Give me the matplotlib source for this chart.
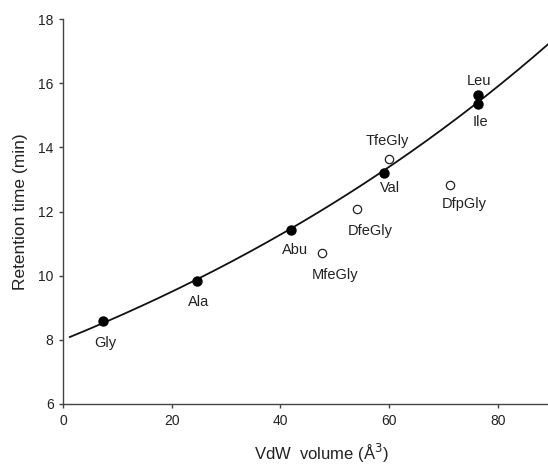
import numpy as np
import matplotlib.pyplot as plt

plt.rcParams['font.family'] = ['Liberation Sans', 'DejaVu Sans']

# natural amino acids (filled) and fluorinated glycines (open)
aa_names = ['Gly', 'Ala', 'Abu', 'Val', 'Leu', 'Ile']
aa_vol = [7.4, 24.6, 41.9, 59.1, 76.4, 76.4]
aa_rt = [8.60, 9.83, 11.41, 13.19, 15.63, 15.34]

fg_names = ['MfeGly', 'DfeGly', 'TfeGly', 'DfpGly']
fg_vol = [47.7, 54.0, 60.0, 71.2]
fg_rt = [10.72, 12.08, 13.63, 12.83]

# label offsets in pixels (dx, dy)
aa_off = [(2, -22), (2, -21), (4, -20), (6, -15), (1, 14), (2, -18)]
fg_off = [(13, -22), (14, -22), (-2, 18), (14, -19)]

fig = plt.figure(figsize=(5.48, 4.65), dpi=100)
ax = fig.add_axes([0.1155, 0.1312, 0.9413, 0.8279])

# exponential fit through the natural amino acids
b, lna = np.polyfit(aa_vol, np.log(aa_rt), 1)
xf = np.linspace(1.2, 95, 200)
ax.plot(xf, np.exp(lna) * np.exp(b * xf), color='#111111', lw=1.3, zorder=1)

ax.plot(aa_vol, aa_rt, 'o', color='black', ms=6.5, zorder=3)
ax.plot(fg_vol, fg_rt, 'o', mfc='white', mec='#222222', mew=0.9, ms=6, zorder=3)

for n, x, y, o in zip(aa_names, aa_vol, aa_rt, aa_off):
    ax.annotate(n, (x, y), xytext=o, textcoords='offset pixels',
                ha='center', va='center', fontsize=10.5, color='#222222')
for n, x, y, o in zip(fg_names, fg_vol, fg_rt, fg_off):
    ax.annotate(n, (x, y), xytext=o, textcoords='offset pixels',
                ha='center', va='center', fontsize=10.5, color='#222222')

ax.set_xlim(0, 95)
ax.set_ylim(6, 18)
ax.set_xticks([0, 20, 40, 60, 80])
ax.set_yticks([6, 8, 10, 12, 14, 16, 18])
ax.spines['top'].set_visible(False)
ax.spines['right'].set_visible(False)
for s in ('left', 'bottom'):
    ax.spines[s].set_color('#444444')
    ax.spines[s].set_linewidth(1.0)
ax.tick_params(labelsize=10, length=3, width=1.0, direction='out',
               color='#444444', labelcolor='#222222', pad=4)
ax.set_xlabel('VdW  volume (Å$^3$)', fontsize=12, labelpad=10, color='#222222')
ax.set_ylabel('Retention time (min)', fontsize=12.5, labelpad=7, color='#222222')

fig.savefig('out.png', dpi=100)
